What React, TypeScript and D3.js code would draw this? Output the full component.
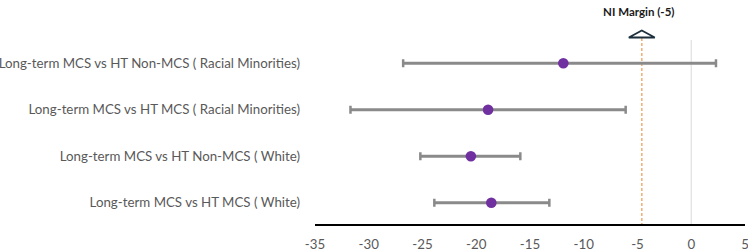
import React from "react";
import * as d3 from "d3";

const categories = [
  "Long-term MCS vs HT Non-MCS ( Racial Minorities)",
  "Long-term MCS vs HT MCS ( Racial Minorities)",
  "Long-term MCS vs HT Non-MCS ( White)",
  "Long-term MCS vs HT MCS ( White)",
];
const estimates = [-11.9, -18.9, -20.5, -18.6];
const lowerCI = [-26.8, -31.7, -25.2, -23.9];
const upperCI = [2.3, -6.1, -15.9, -13.2];
const xTicks = [-35, -30, -25, -20, -15, -10, -5, 0, 5];
const niMargin = -4.6;
const niLabel = "NI Margin (-5)";

const W = 748;
const H = 249;

export default function App() {
  const x = d3.scaleLinear().domain([-35, 5]).range([315, 745]);
  const y = d3
    .scaleBand<string>()
    .domain(categories)
    .range([40, 226])
    .paddingInner(0)
    .paddingOuter(0);
  const yc = (c: string) => (y(c) as number) + y.bandwidth() / 2;
  const axisY = 225;
  const capH = 8;
  const font = "Lato, 'Open Sans', sans-serif";
  const nx = x(niMargin);

  return (
    <svg
      width={W}
      height={H}
      style={{ position: "absolute", left: 0, top: 0, background: "#fff" }}
    >
      {/* zero reference line */}
      <line x1={x(0)} x2={x(0)} y1={40} y2={axisY} stroke="#e0e0e0" strokeWidth={1.2} />
      {/* NI margin line */}
      <line
        x1={nx}
        x2={nx}
        y1={38}
        y2={axisY}
        stroke="#f2b27a"
        strokeWidth={1.6}
        strokeDasharray="3,2"
      />
      <path
        d={`M${nx - 13},${37.5} L${nx},${30.5} L${nx + 13},${37.5} Z`}
        fill="#fff"
        stroke="#1c2f3c"
        strokeWidth={1.8}
        strokeLinejoin="miter"
      />
      <text
        x={nx - 3}
        y={15.5}
        textAnchor="middle"
        fontFamily={font}
        fontWeight="bold"
        fontSize={11.5}
        fill="#1a1a1a"
      >
        {niLabel}
      </text>
      {/* rows */}
      {categories.map((c, i) => {
        const cy = yc(c);
        return (
          <g key={c}>
            <text
              x={300}
              y={cy}
              dy="0.35em"
              textAnchor="end"
              fontFamily={font}
              fontSize={13.3}
              fill="#595959"
            >
              {c}
            </text>
            <line x1={x(lowerCI[i])} x2={x(upperCI[i])} y1={cy} y2={cy} stroke="#8a8a8a" strokeWidth={3} />
            <line x1={x(lowerCI[i])} x2={x(lowerCI[i])} y1={cy - capH / 2} y2={cy + capH / 2} stroke="#8a8a8a" strokeWidth={2.5} />
            <line x1={x(upperCI[i])} x2={x(upperCI[i])} y1={cy - capH / 2} y2={cy + capH / 2} stroke="#8a8a8a" strokeWidth={2.5} />
            <circle cx={x(estimates[i])} cy={cy} r={5.3} fill="#7030a0" />
          </g>
        );
      })}
      {/* axis */}
      <line x1={x(-35)} x2={x(5)} y1={axisY} y2={axisY} stroke="#000" strokeWidth={1.8} />
      {xTicks.map((t) => (
        <text
          key={t}
          x={x(t)}
          y={248.5}
          textAnchor="middle"
          fontFamily={font}
          fontSize={13.3}
          fill="#595959"
        >
          {t}
        </text>
      ))}
    </svg>
  );
}
